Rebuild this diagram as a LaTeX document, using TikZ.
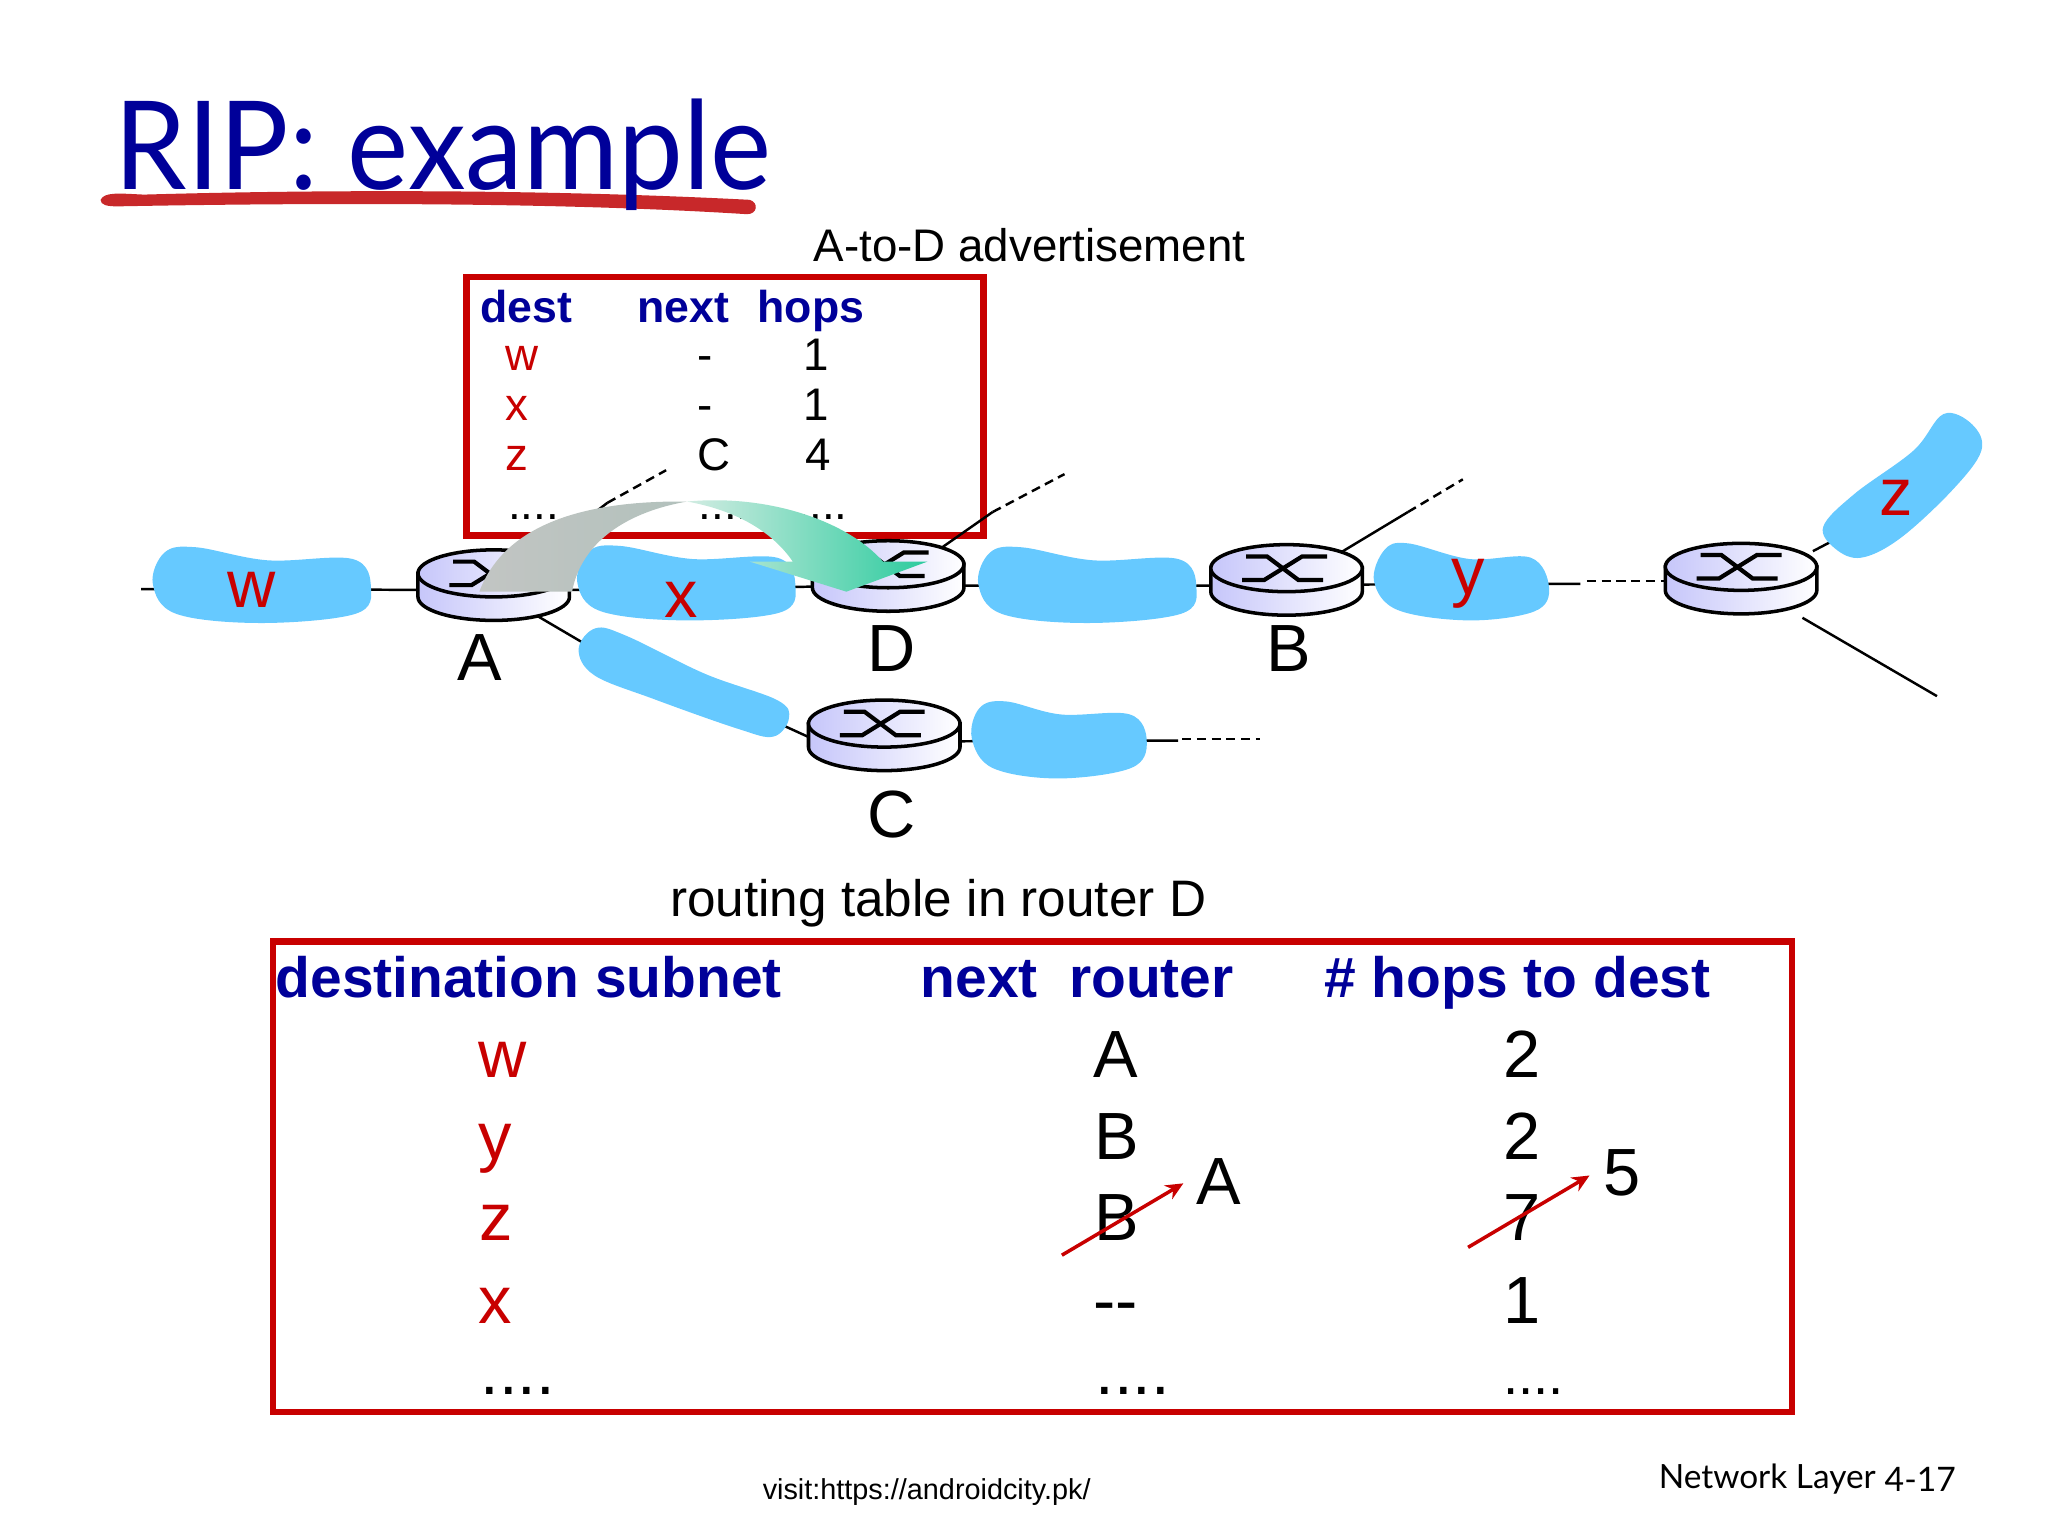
\documentclass[tikz,border=0pt]{standalone}
\usepackage{fontspec}
\usetikzlibrary{arrows.meta}
\setmainfont{Liberation Sans}
\newfontfamily\titlefont{Lato}
\definecolor{navy}{HTML}{000099}
\definecolor{netred}{HTML}{C80000}
\definecolor{markred}{HTML}{C8282A}
\definecolor{netblue}{HTML}{66C9FF}
\definecolor{lavender}{HTML}{C6C6FA}
\definecolor{arcgrayl}{HTML}{C2C5C3}
\definecolor{arcgrayr}{HTML}{B2C1BC}
\definecolor{arcgreenl}{HTML}{D2ECE2}
\definecolor{arcgreenr}{HTML}{2CCB9E}
\tikzset{
  txt/.style={anchor=base west,inner sep=0pt,outer sep=0pt},
  head/.style={txt,text=navy,font=\bfseries\fontsize{12.7}{15}\selectfont},
  cell/.style={txt,font=\fontsize{13}{15}\selectfont},
  rcell/.style={cell,text=netred},
  bighead/.style={txt,text=navy,font=\bfseries\fontsize{16.2}{19}\selectfont},
  bigcell/.style={txt,font=\fontsize{19}{22}\selectfont},
  rbigcell/.style={bigcell,text=netred},
  netline/.style={line width=0.7pt},
  netdash/.style={line width=0.7pt,dash pattern=on 2.6pt off 1.6pt},
  netfill/.style={fill=netblue},
  tablebox/.style={draw=netred,line width=1.9pt},
  fixarrow/.style={-{Stealth[length=5pt,width=4.5pt]},draw=netred,line width=1pt}
}
\newcommand{\router}[2]{
  \begin{scope}[shift={(#1,#2)}]
    \draw[line width=1pt,left color=lavender,right color=white] (-58,0) -- (-58,18) arc[start angle=180,end angle=0,x radius=58,y radius=18] -- (58,0) -- cycle;
    \draw[line width=1pt,left color=lavender,right color=white] (0,0) ellipse[x radius=58,y radius=18];
    \draw[line width=1.2pt] (-31,-9) -- (-15,-9) -- (9,9) -- (28,9);
    \draw[line width=1.2pt] (-34,9) -- (-17,9) -- (12,-9) -- (31,-9);
  \end{scope}
}
\begin{document}
\begin{tikzpicture}[x=0.013061cm,y=-0.013061cm]
\useasboundingbox (0,0) rectangle (1568,1176);
% title
\fill[markred] (77,153) .. controls (80,147) and (90,148) .. (110,149) .. controls (250,145) and (420,145) .. (574,153) .. controls (581,155) and (580,164) .. (572,164) .. controls (430,155) and (250,155) .. (90,158) .. controls (82,158) and (77,157) .. (77,153) -- cycle;
\node[txt,text=navy,font=\titlefont\fontsize{35}{40}\selectfont] (title) at (88,145) {\scalebox{0.94}[1]{RIP: example}};
% advertisement table
\node[txt,font=\fontsize{13}{15}\selectfont] (advlabel) at (623,200) {A-to-D advertisement};
\draw[tablebox] (357,212) rectangle (753,410);
\node[head] (adest) at (368,247) {dest};
\node[head] (anext) at (488,247) {next};
\node[head] (ahops) at (580,247) {hops};
\node[rcell] (aw) at (387,284) {w};
\node[cell] (aw2) at (534,284) {-};
\node[cell] (aw3) at (615,284) {1};
\node[rcell] (ax) at (387,322) {x};
\node[cell] (ax2) at (534,322) {-};
\node[cell] (ax3) at (615,322) {1};
\node[rcell] (az) at (387,360) {z};
\node[cell] (az2) at (534,360) {C};
\node[cell] (az3) at (617,360) {4};
\node[cell] (ad1) at (389,398) {....};
\node[cell] (ad2) at (535,398) {....};
\node[cell] (ad3) at (610,398) {....};
% network
\coordinate (A) at (378,452);
\coordinate (D) at (680,448);
\coordinate (B) at (985,448);
\coordinate (E) at (1333,446);
\coordinate (C) at (625,567);
\coordinate (Cr) at (677,568);
\coordinate (netw) at (201,451);
\coordinate (netx) at (526,451);
\coordinate (netdb) at (833,449);
\coordinate (nety) at (1119,447);
\coordinate (netz) at (1430,400);
\coordinate (netac) at (470,506);
\coordinate (netca) at (590,551);
\coordinate (netcr) at (811,567);
\coordinate (wend) at (108,451);
\coordinate (yend) at (1210,447);
\coordinate (ydash) at (1215,445);
\coordinate (edash) at (1275,445);
\coordinate (crend) at (902,567);
\coordinate (crdash) at (905,566);
\coordinate (crdash2) at (965,566);
\coordinate (Eup) at (1388,422);
\coordinate (Edown) at (1380,473);
\coordinate (Eend) at (1483,533);
\coordinate (Bmid) at (1078,392);
\coordinate (Bend) at (1120,367);
\coordinate (Dmid) at (760,392);
\coordinate (Dend) at (815,363);
\coordinate (Amid) at (465,385);
\coordinate (Aend) at (510,360);
\draw[netline] (wend) -- (netw) -- (A) -- (netx) -- (D) -- (netdb) -- (B) -- (nety) -- (yend);
\draw[netdash] (ydash) -- (edash);
\draw[netline] (netz) -- (Eup);
\draw[netline] (Edown) -- (Eend);
\draw[netline] (A) -- (netac);
\draw[netline] (netca) -- (C);
\draw[netline] (Cr) -- (netcr) -- (crend);
\draw[netdash] (crdash) -- (crdash2);
\draw[netline] (B) -- (Bmid);
\draw[netdash] (Bmid) -- (Bend);
\draw[netline] (D) -- (Dmid);
\draw[netdash] (Dmid) -- (Dend);
\draw[netline] (A) -- (Amid);
\draw[netdash] (Amid) -- (Aend);
\fill[netfill] plot[smooth cycle,tension=.6] coordinates {(117,447) (126,423) (150,419) (205,429) (270,428) (284,450) (272,470) (200,477) (135,470)};
\fill[netfill] plot[smooth cycle,tension=.6] coordinates {(442,446) (451,422) (475,418) (530,428) (595,427) (609,449) (597,469) (525,475) (460,468)};
\fill[netfill] plot[smooth cycle,tension=.6] coordinates {(749,447) (758,423) (782,419) (837,429) (902,428) (916,450) (904,470) (832,477) (767,470)};
\fill[netfill] plot[smooth cycle,tension=.6] coordinates {(1052,445) (1060,421) (1078,416) (1125,428) (1172,427) (1186,450) (1175,468) (1125,475) (1070,467)};
\fill[netfill] plot[smooth cycle,tension=.6] coordinates {(744,565) (750,542) (770,537) (812,547) (865,547) (878,568) (866,588) (810,596) (760,588)};
\fill[netfill] plot[smooth cycle,tension=.6] coordinates {(443,497) (456,481) (480,487) (540,516) (595,536) (604,550) (592,564) (565,558) (500,535) (455,517)};
\fill[netfill] plot[smooth cycle,tension=.6] coordinates {(1396,403) (1420,378) (1465,345) (1488,317) (1510,325) (1517,345) (1495,375) (1455,412) (1425,427) (1405,420)};
\router{378}{439}
\router{680}{432}
\router{985}{435}
\router{1333}{434}
\router{677}{554}
\node[rbigcell] (lw) at (174,465) {w};
\node[rbigcell] (lx) at (509,473) {x};
\node[rbigcell] (ly) at (1111,455) {y};
\node[rbigcell] (lz) at (1439,395) {z};
\node[bigcell] (la) at (350,521) {A};
\node[bigcell] (ld) at (664,514) {D};
\node[bigcell] (lb) at (970,514) {B};
\node[bigcell] (lc) at (664,641) {C};
% advertisement arrow
\shade[left color=arcgrayl,right color=arcgrayr] (367,453) .. controls (385,405) and (440,383) .. (526,384) .. controls (480,392) and (445,415) .. (438,453) -- cycle;
\shade[left color=arcgreenl,right color=arcgreenr] (526,384) .. controls (590,378) and (650,400) .. (676,430) -- (710,430) -- (648,453) -- (574,430) -- (607,430) .. controls (590,405) and (560,390) .. (526,384) -- cycle;
% routing table
\node[txt,font=\fontsize{14.6}{17}\selectfont] (rtlabel) at (513,702) {routing table in router D};
\draw[tablebox] (209,721) rectangle (1372,1081);
\node[bighead] (rdest) at (211,764) {destination subnet};
\node[bighead] (rnext) at (705,764) {next\hspace{0.55em}router};
\node[bighead] (rhops) at (1014,764) {\# hops to dest};
\node[rbigcell] (rw) at (366,825) {w};
\node[bigcell] (rw2) at (837,825) {A};
\node[bigcell] (rw3) at (1151,825) {2};
\node[rbigcell] (ry) at (366,888) {y};
\node[bigcell] (ry2) at (838,888) {B};
\node[bigcell] (ry3) at (1151,888) {2};
\node[rbigcell] (rz) at (367,950) {z};
\node[bigcell] (rz2) at (838,950) {B};
\node[bigcell] (rz3) at (1151,950) {7};
\node[rbigcell] (rx) at (366,1013) {x};
\node[bigcell] (rx2) at (837,1013) {{-}{-}};
\node[bigcell] (rx3) at (1151,1013) {1};
\node[bigcell] (rd1) at (368,1068) {....};
\node[bigcell] (rd2) at (839,1068) {....};
\node[bigcell,font=\fontsize{15.5}{18}\selectfont] (rd3) at (1151,1068) {....};
\node[bigcell] (newnext) at (916,922) {A};
\node[bigcell] (newhops) at (1228,915) {5};
\coordinate (fixa) at (813,961);
\coordinate (fixb) at (906,906);
\coordinate (fixc) at (1124,955);
\coordinate (fixd) at (1217,900);
\draw[fixarrow] (fixa) -- (fixb);
\draw[fixarrow] (fixc) -- (fixd);
% footer
\node[txt,font=\fontsize{8.2}{10}\selectfont] (visit) at (584,1148) {visit:https://androidcity.pk/};
\node[txt,font=\titlefont\fontsize{9.5}{12}\selectfont] (foot) at (1270,1140) {Network Layer};
\node[txt,font=\titlefont\fontsize{9.6}{12}\selectfont] (page) at (1443,1142) {4-17};
\end{tikzpicture}
\end{document}
